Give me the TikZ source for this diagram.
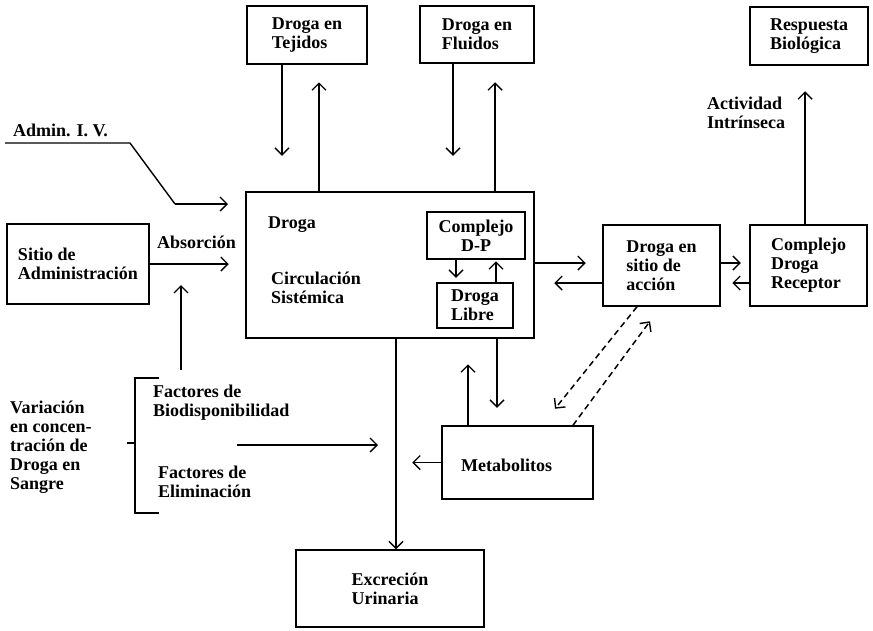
\documentclass[tikz,border=0pt]{standalone}
\usepackage{fontspec}
\setmainfont{Liberation Serif}
\usetikzlibrary{arrows.meta}
\begin{document}
\begin{tikzpicture}[x=1pt,y=-1pt,
  every node/.style={font=\bfseries\fontsize{18}{19}\selectfont},
  box/.style={draw,line width=1.5pt,inner sep=0pt,align=left},
  cbox/.style={draw,line width=1.5pt,inner sep=0pt,align=center},
  lbl/.style={anchor=west,inner sep=0pt,align=left},
  arr/.style={line width=1.4pt,-{Straight Barb[length=7pt,width=14pt,line width=1.4pt]}},
  plain/.style={line width=1.4pt},
  dsh/.style={line width=1.5pt,dash pattern=on 6pt off 4pt,-{Straight Barb[length=7pt,width=14pt,line width=1.4pt]}}]
\useasboundingbox (0,0) rectangle (873,630);
% boxes
\node[box,minimum width=120,minimum height=58] (tej) at (307,35) {Droga en\\Tejidos};
\node[box,minimum width=114,minimum height=57] (flu) at (477,34.5) {Droga en\\Fluidos};
\node[box,minimum width=118,minimum height=58] (resp) at (809,36) {Respuesta\\Biológica};
\node[box,minimum width=288,minimum height=146] (circ) at (390,265) {};
\node[cbox,minimum width=98,minimum height=47] (dp) at (476,235.5) {Complejo\\D-P};
\node[box,minimum width=76,minimum height=45] (libre) at (475,305.5) {Droga\\Libre};
\node[box,minimum width=142,minimum height=80] (sitio) at (78,264) {Sitio de\\Administración};
\node[box,minimum width=117,minimum height=81] (acc) at (661.5,265.5) {Droga en\\sitio de\\acción};
\node[box,minimum width=117,minimum height=81] (rec) at (808.5,265.5) {Complejo\\Droga\\Receptor};
\node[box,minimum width=151,minimum height=73] (met) at (517.5,462.5) {};
\node[box,minimum width=188,minimum height=77] (exc) at (390,588.5) {Excreción\\Urinaria};
% labels
\node[lbl] (tdroga) at (268,225) {Droga};
\node[lbl] (tcirc) at (271,288) {Circulación\\Sistémica};
\node[lbl] (tmet) at (461,465) {Metabolitos};
\node[lbl] (tabs) at (157,242) {Absorción};
\node[lbl] (tiv) at (13,130) {Admin. I. V.};
\node[lbl] (tact) at (707,113) {Actividad\\Intrínseca};
\node[lbl] (tbio) at (153,403) {Factores de\\Biodisponibilidad};
\node[lbl] (telim) at (158,482) {Factores de\\Eliminación};
\node[lbl] (tvar) at (10,447) {Variación\\en concen-\\tración de\\Droga en\\Sangre};
% coordinates for free ends
\coordinate (iv0) at (5,143);
\coordinate (iv1) at (130,143);
\coordinate (iv2) at (175,204);
\coordinate (iv3) at (228,204);
\coordinate (up0) at (181,370);
\coordinate (up1) at (181,285);
\coordinate (br0) at (159,378);
\coordinate (br1) at (135,378);
\coordinate (br2) at (135,513);
\coordinate (br3) at (159,513);
\coordinate (tk0) at (127,443);
\coordinate (tk1) at (135,443);
\coordinate (fa0) at (237,445);
\coordinate (fa1) at (378,445);
\coordinate (cs) at ([xshift=6pt]circ.south);
% connectors
\draw[arr] ([xshift=-25pt]tej.south) -- ++(0,91);
\draw[arr] ([xshift=-71pt]circ.north) -- ++(0,-109);
\draw[arr] ([xshift=-24pt]flu.south) -- ++(0,92);
\draw[arr] ([xshift=105pt]circ.north) -- ++(0,-109);
\draw[arr] ([xshift=-20pt]dp.south) -- ++(0,18);
\draw[arr] ([xshift=21pt]libre.north) -- ++(0,-21);
\draw[arr] (sitio.east) -- ++(79,0);
\draw[plain] (iv0) -- (iv1) -- (iv2);
\draw[arr] (iv2) -- (iv3);
\draw[arr] (up0) -- (up1);
\draw[plain] (br0) -- (br1) -- (br2) -- (br3);
\draw[plain] (tk0) -- (tk1);
\draw[arr] (fa0) -- (fa1);
\draw[arr] (cs) -- (cs |- exc.north);
\draw[arr] ([xshift=-49.5pt]met.north) -- ++(0,-61);
\draw[arr] ([xshift=107pt]circ.south) -- ++(0,69);
\draw[arr] (met.west) -- ++(-29,0);
\draw[dsh] ([xshift=-24.5pt]acc.south) -- ++(-82,102);
\draw[dsh] ([xshift=55.5pt]met.north) -- ++(77,-104);
\draw[arr] ([yshift=2pt]circ.east) -- ++(51,0);
\draw[arr] ([yshift=-17.5pt]acc.west) -- ++(-48,0);
\draw[arr] ([yshift=2.5pt]acc.east) -- ++(20,0);
\draw[arr] ([yshift=-17.5pt]rec.west) -- ++(-17,0);
\draw[arr] ([xshift=-3.5pt]rec.north) -- ++(0,-133);
\end{tikzpicture}
\end{document}
